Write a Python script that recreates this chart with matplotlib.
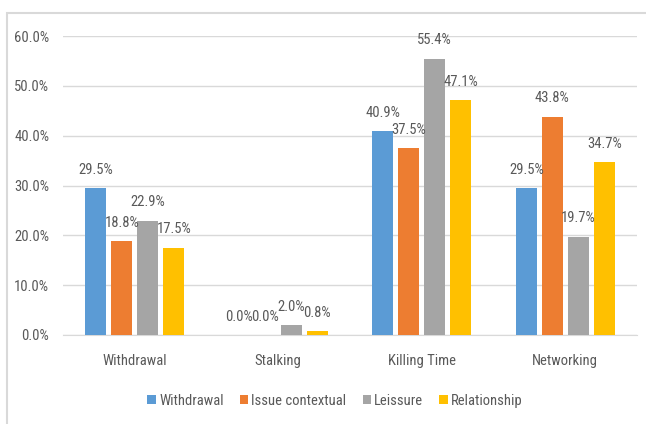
import matplotlib
matplotlib.use("Agg")
import matplotlib.pyplot as plt
import numpy as np
from matplotlib.patches import Rectangle
from matplotlib import font_manager

categories = ["Withdrawal", "Stalking", "Killing Time", "Networking"]
series_names = ["Withdrawal", "Issue contextual", "Leissure", "Relationship"]
withdrawal = [29.5, 0.0, 40.9, 29.5]
issue_contextual = [18.8, 0.0, 37.5, 43.8]
leissure = [22.9, 2.0, 55.4, 19.7]
relationship = [17.5, 0.8, 47.1, 34.7]
yticks = [0, 10, 20, 30, 40, 50, 60]
colors = ["#5B9BD5", "#ED7D31", "#A5A5A5", "#FFC000"]

# find a condensed family with a regular weight
regular = {}
for f in font_manager.fontManager.ttflist:
    w = f.weight if isinstance(f.weight, int) else 400
    if 300 <= w <= 400 and f.style == "normal":
        regular[f.name] = f.weight
fam = [f for f in ["Liberation Sans Narrow", "Roboto Condensed", "Open Sans Condensed",
                   "Noto Sans Condensed", "Open Sans", "DejaVu Sans"] if f in regular]
plt.rcParams["font.family"] = fam
plt.rcParams["font.weight"] = "normal"
text_color = "#595959"

fig = plt.figure(figsize=(6.46, 4.24), dpi=100)
ax = fig.add_axes([63/646, 1-335/424, (637-63)/646, (335-36)/424])

data = [withdrawal, issue_contextual, leissure, relationship]
x = np.arange(len(categories))
step = 0.181
width = 0.146
for i, (vals, c, name) in enumerate(zip(data, colors, series_names)):
    pos = x + (i - 1.5) * step
    ax.bar(pos, vals, width=width, color=c, label=name, zorder=3)
    for p, v in zip(pos, vals):
        ax.text(p, v + 2.3, f"{v:.1f}%", ha="center", va="bottom",
                fontsize=10.5, color=text_color, zorder=4, fontweight="normal")

ax.set_xlim(-0.5, len(categories) - 0.5)
ax.set_ylim(0, 60)
ax.set_yticks(yticks)
ax.set_yticklabels([f"{t:.1f}%" for t in yticks])
ax.set_xticks(x)
ax.set_xticklabels(categories)
ax.tick_params(axis="both", length=0, labelsize=10.5, colors=text_color)
ax.tick_params(axis="y", pad=10)
ax.tick_params(axis="x", pad=14)
ax.grid(axis="y", color="#d9d9d9", linewidth=1, zorder=0)
for s in ["top", "right", "left"]:
    ax.spines[s].set_visible(False)
ax.spines["bottom"].set_color("#d9d9d9")

leg = fig.legend(loc="center", bbox_to_anchor=(0.5 + 12/646, 1-401/424), ncol=4,
                 frameon=False, fontsize=10.5, handlelength=0.6, handleheight=0.6,
                 handletextpad=0.2, columnspacing=1.1, labelcolor=text_color)

fig.patches.append(Rectangle((7/646, -0.1), 1.2, 1 - 13/424 + 0.1, transform=fig.transFigure,
                             fill=False, edgecolor="#d9d9d9", linewidth=1.5, zorder=0))

fig.savefig("out.png", dpi=100)
